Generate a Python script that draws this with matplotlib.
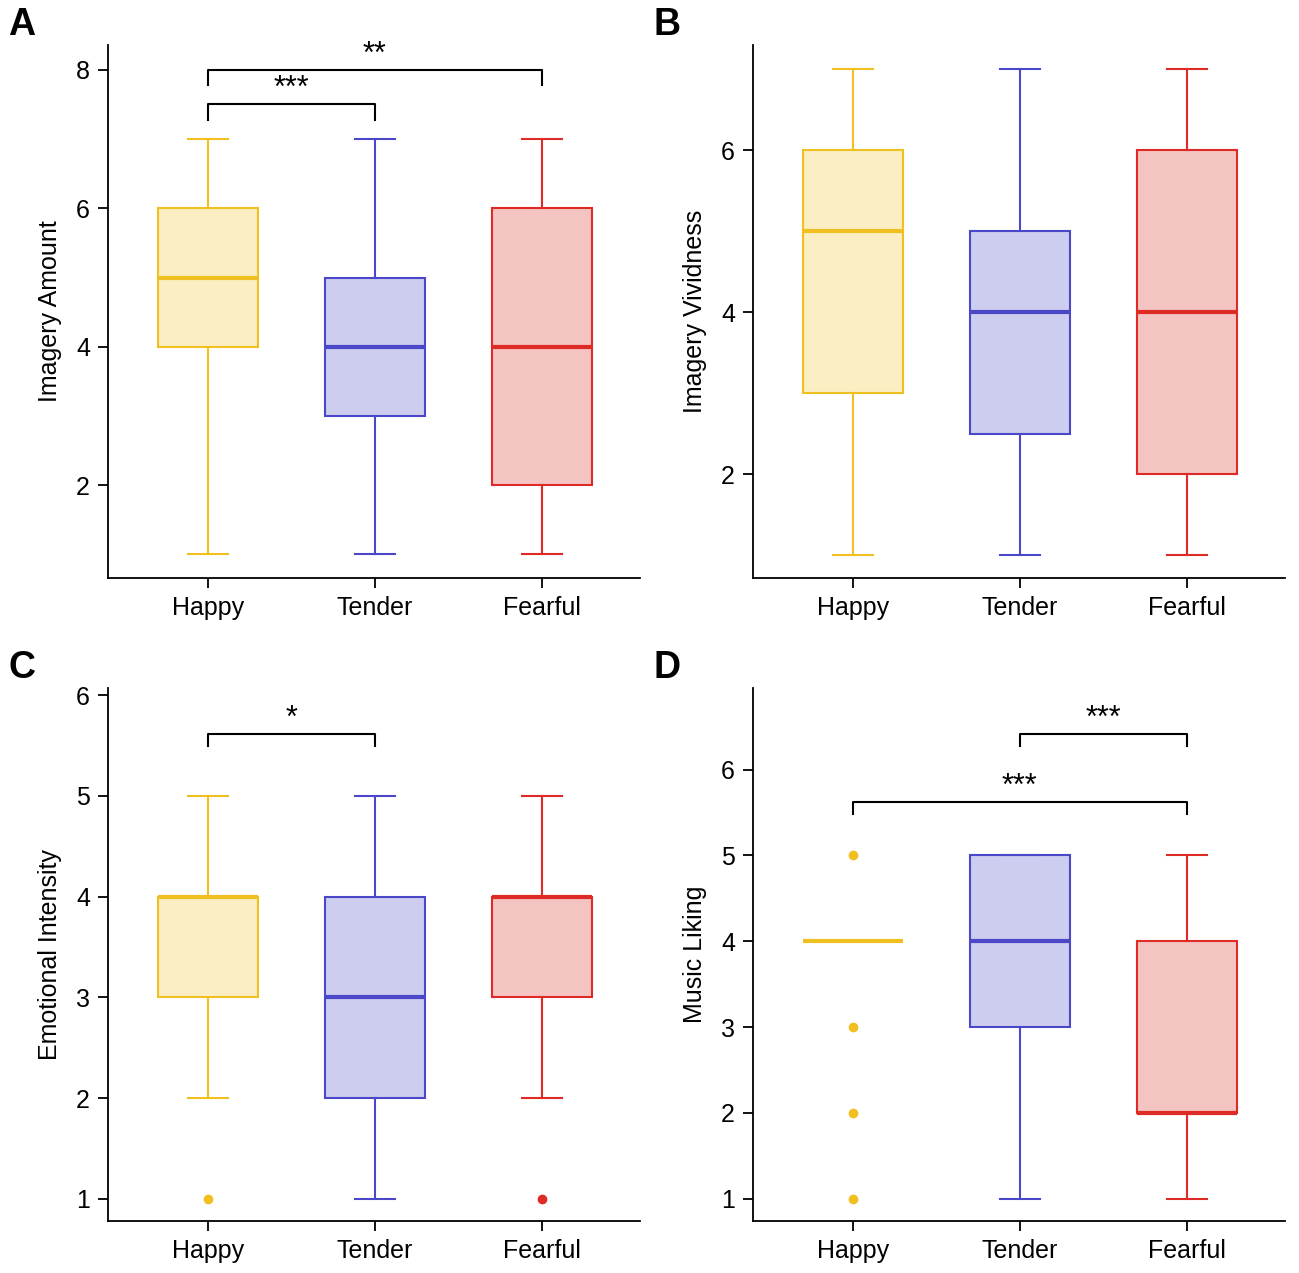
import matplotlib
matplotlib.use("Agg")
import matplotlib.pyplot as plt

plt.rcParams["font.family"] = ["Liberation Sans", "DejaVu Sans"]

GROUPS = ["Happy", "Tender", "Fearful"]
COLORS = ["#F0C020", "#4A47C9", "#DE2B25"]
FILLS = ["#FAEEC2", "#CDCDF0", "#F4C4C2"]

# (whislo, q1, med, q3, whishi, fliers) per group
amount = [(1, 4, 5, 6, 7, []), (1, 3, 4, 5, 7, []), (1, 2, 4, 6, 7, [])]
vividness = [(1, 3, 5, 6, 7, []), (1, 2.5, 4, 5, 7, []), (1, 2, 4, 6, 7, [])]
intensity = [(2, 3, 4, 4, 5, [1]), (1, 2, 3, 4, 5, []), (2, 3, 4, 4, 5, [1])]
liking = [(4, 4, 4, 4, 4, [1, 2, 3, 5]), (1, 3, 4, 5, 5, []), (1, 2, 2, 4, 5, [])]

PANELS = [
    ("A", amount, "Imagery Amount", (0.66, 8.36), [2, 4, 6, 8],
     [(1, 2, 7.51, 7.28, "***"), (1, 3, 8.0, 7.78, "**")]),
    ("B", vividness, "Imagery Vividness", (0.72, 7.3), [2, 4, 6], []),
    ("C", intensity, "Emotional Intensity", (0.78, 6.07), [1, 2, 3, 4, 5, 6],
     [(1, 2, 5.61, 5.49, "*")]),
    ("D", liking, "Music Liking", (0.74, 6.95), [1, 2, 3, 4, 5, 6],
     [(2, 3, 6.41, 6.27, "***"), (1, 3, 5.62, 5.48, "***")]),
]

W, H = 1299, 1273
fig = plt.figure(figsize=(W / 100, H / 100), dpi=100)
boxes = [(108, 45), (753, 45), (108, 688), (753, 688)]

for (letter, data, ylabel, ylim, yticks, sig), (x0, y0) in zip(PANELS, boxes):
    ax = fig.add_axes([x0 / W, 1 - (y0 + 533) / H, 532 / W, 533 / H])
    for i, (lo, q1, med, q3, hi, fl) in enumerate(data):
        st = [dict(whislo=lo, q1=q1, med=med, q3=q3, whishi=hi, fliers=fl)]
        c = COLORS[i]
        ax.bxp(st, positions=[i + 1], widths=0.6, patch_artist=True,
               boxprops=dict(facecolor=FILLS[i], edgecolor=c, linewidth=1.5),
               whiskerprops=dict(color=c, linewidth=1.5),
               capprops=dict(color=c, linewidth=1.5),
               medianprops=dict(color=c, linewidth=3),
               flierprops=dict(marker="o", markerfacecolor=c, markeredgecolor=c,
                               markersize=6),
               capwidths=0.24)
    for a, b, ytop, ybot, stars in sig:
        ax.plot([a, a, b, b], [ybot, ytop, ytop, ybot], color="black", lw=1.5)
        ax.text((a + b) / 2, ytop, stars, ha="center", va="bottom", fontsize=22)
    ax.set_xlim(0.4, 3.59)
    ax.set_ylim(*ylim)
    ax.set_yticks(yticks)
    ax.set_xticks([1, 2, 3])
    ax.set_xticklabels(GROUPS)
    ax.tick_params(labelsize=18, width=1.3, length=7, pad=6)
    ax.set_ylabel(ylabel, fontsize=18, labelpad=10)
    for s in ["top", "right"]:
        ax.spines[s].set_visible(False)
    for s in ["left", "bottom"]:
        ax.spines[s].set_linewidth(1.3)
    fig.text((x0 - 100) / W, 1 - (y0 - 20) / H, letter, fontsize=27,
             fontweight="bold", va="center")

fig.savefig("out.png", dpi=100)
